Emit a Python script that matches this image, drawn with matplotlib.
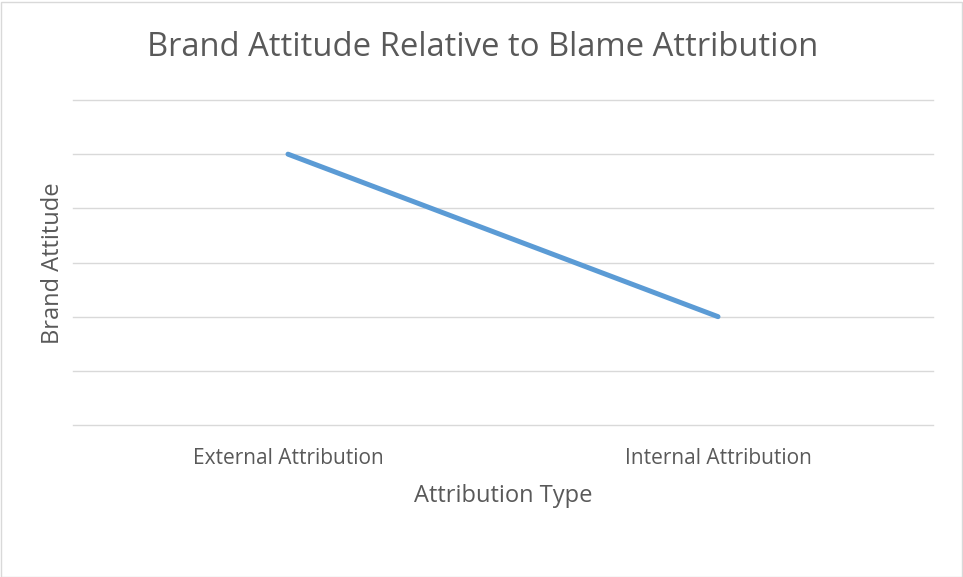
import matplotlib.pyplot as plt
from matplotlib.patches import Rectangle

plt.rcParams['font.family'] = ['Open Sans', 'DejaVu Sans']

categories = ['External Attribution', 'Internal Attribution']
brand_attitude = [5, 2]
grid_levels = [0, 1, 2, 3, 4, 5, 6]

txt_color = '#595959'

fig = plt.figure(figsize=(9.63, 5.77), dpi=100)
ax = fig.add_axes([73 / 963, 1 - 425 / 577, 860 / 963, 325 / 577])

ax.plot(range(len(categories)), brand_attitude, color='#5B9BD5', linewidth=3.6,
        solid_capstyle='round')
ax.set_xlim(-0.5, len(categories) - 0.5)
ax.set_ylim(grid_levels[0], grid_levels[-1])
ax.set_yticks(grid_levels)
ax.set_yticklabels([])
ax.set_xticks(range(len(categories)))
ax.set_xticklabels([])
ax.tick_params(length=0)
ax.grid(axis='y', color='#D9D9D9', linewidth=1)
for gl in ax.get_ygridlines():
    gl.set_clip_on(False)
ax.set_axisbelow(True)
for s in ax.spines.values():
    s.set_visible(False)

for i, c in enumerate(categories):
    fig.text((73 + 860 * (2 * i + 1) / 4) / 963, 1 - 458 / 577, c,
             ha='center', va='center', fontsize=15, color=txt_color)

fig.text(483 / 963, 1 - 47 / 577, 'Brand Attitude Relative to Blame Attribution',
         ha='center', va='center', fontsize=23.6, color=txt_color)
fig.text(503 / 963, 1 - 496 / 577, 'Attribution Type',
         ha='center', va='center', fontsize=17, color=txt_color)
fig.text(53 / 963, 1 - 263 / 577, 'Brand Attitude', rotation=90,
         ha='center', va='center', fontsize=17, color=txt_color)

fig.patches.append(Rectangle((0.5 / 963, 0.5 / 577), 961 / 963, 575 / 577,
                             transform=fig.transFigure, fill=False,
                             edgecolor='#D9D9D9', linewidth=1))

fig.savefig('out.png', dpi=100)
